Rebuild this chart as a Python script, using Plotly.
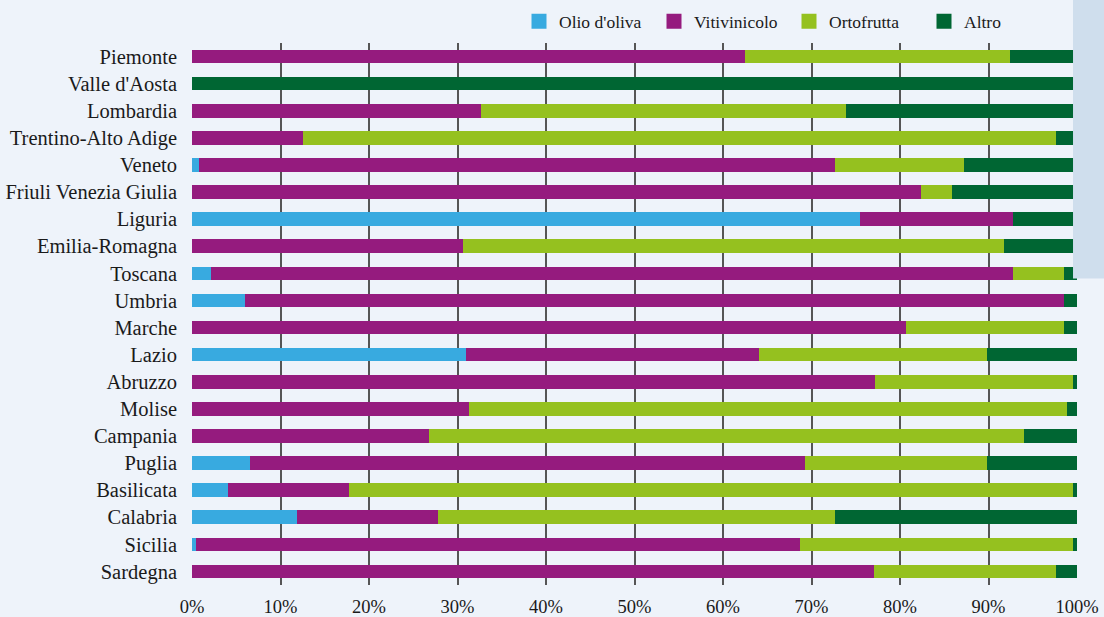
import plotly.graph_objects as go

regions = ["Piemonte", "Valle d'Aosta", "Lombardia", "Trentino-Alto Adige", "Veneto",
           "Friuli Venezia Giulia", "Liguria", "Emilia-Romagna", "Toscana", "Umbria",
           "Marche", "Lazio", "Abruzzo", "Molise", "Campania", "Puglia", "Basilicata",
           "Calabria", "Sicilia", "Sardegna"]

olio = [0, 0, 0, 0, 0.8, 0, 75.5, 0, 2.1, 6.0, 0, 31.0, 0, 0, 0, 6.6, 4.1, 11.9, 0.5, 0]
viti = [62.5, 0, 32.6, 12.5, 71.8, 82.4, 17.3, 30.6, 90.7, 92.5, 80.7, 33.1, 77.2, 31.3, 26.8, 62.7, 13.6, 15.9, 68.2, 77.1]
orto = [29.9, 0, 41.3, 85.1, 14.6, 3.5, 0, 61.2, 5.7, 0, 17.8, 25.7, 22.3, 67.6, 67.2, 20.5, 81.8, 44.8, 30.8, 20.5]
altro = [7.6, 100, 26.1, 2.4, 12.8, 14.1, 7.2, 8.2, 1.5, 1.5, 1.5, 10.2, 0.5, 1.1, 6.0, 10.2, 0.5, 27.4, 0.5, 2.4]

series = [("Olio d'oliva", olio, "#38aae0"),
          ("Vitivinicolo", viti, "#951b7e"),
          ("Ortofrutta", orto, "#95c11f"),
          ("Altro", altro, "#006633")]

tick_vals = list(range(0, 101, 10))
tick_text = [f"{v}%" for v in tick_vals]

FONT = "Liberation Serif"

fig = go.Figure()
for name, vals, col in series:
    fig.add_trace(go.Bar(y=regions, x=vals, name=name, orientation="h",
                         marker=dict(color=col, line=dict(width=0)),
                         showlegend=False))
# legend proxies with larger square symbols
for name, vals, col in series:
    fig.add_trace(go.Scatter(x=[None], y=[None], mode="markers", name=name,
                             marker=dict(symbol="square", size=15, color=col),
                             showlegend=True))

fig.update_layout(
    barmode="stack",
    bargap=0.5,
    width=1104, height=617,
    margin=dict(l=192, r=27, t=43, b=32, autoexpand=False),
    paper_bgcolor="#eef3fa",
    plot_bgcolor="#eef3fa",
    font=dict(family=FONT, size=20, color="#1a1a1a"),
    legend=dict(orientation="h", x=0.3695, xanchor="left", y=1.04, yanchor="middle",
                bgcolor="rgba(0,0,0,0)", font=dict(family=FONT, size=17.5, color="#1a1a1a"),
                traceorder="normal", entrywidth=90, entrywidthmode="pixels"),
    xaxis=dict(range=[0, 100], tickvals=tick_vals, ticktext=tick_text,
               showgrid=True, gridcolor="#555555", gridwidth=1.8,
               zeroline=False, showline=False, ticks="", ticklabelstandoff=8,
               tickfont=dict(size=18.5), automargin=False, fixedrange=True),
    yaxis=dict(autorange="reversed", showgrid=False, zeroline=False, ticks="",
               ticklabelstandoff=14, showline=False, tickfont=dict(size=20.5),
               automargin=False, fixedrange=True),
    shapes=[dict(type="rect", xref="paper", yref="paper", x0=0.9955, x1=1.04,
                 y0=0.5655, y1=1.1, fillcolor="#cfdeed", line=dict(width=0),
                 layer="above")],
)

fig.write_html("out.html", config={"displayModeBar": False},
               post_script="document.body.style.margin='0';")
